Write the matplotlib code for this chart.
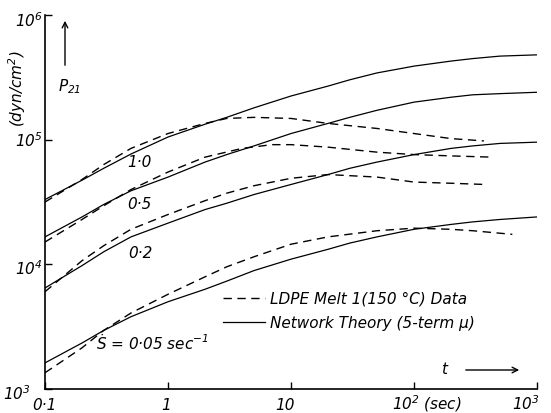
import matplotlib.pyplot as plt
from matplotlib.lines import Line2D
from matplotlib.ticker import NullLocator

plt.rcParams['mathtext.fontset'] = 'custom'
plt.rcParams['mathtext.rm'] = 'DejaVu Sans:italic'
plt.rcParams['mathtext.it'] = 'DejaVu Sans:italic'

# theory curves (network theory, 5-term mu), shear stress P21 in dyn/cm^2
t_theory = [0.1, 0.2, 0.3, 0.5, 1, 2, 3, 5, 10, 20, 30, 50, 100, 200, 300, 500, 1000]
theory_10 = [3.31e4, 4.73e4, 5.89e4, 7.67e4, 1.05e5, 1.33e5, 1.51e5, 1.80e5, 2.24e5,
             2.69e5, 3.02e5, 3.43e5, 3.89e5, 4.27e5, 4.47e5, 4.68e5, 4.79e5]
theory_05 = [1.66e4, 2.40e4, 3.02e4, 3.89e4, 5.01e4, 6.61e4, 7.59e4, 8.91e4, 1.12e5,
             1.35e5, 1.51e5, 1.72e5, 2.0e5, 2.19e5, 2.29e5, 2.34e5, 2.40e5]
theory_02 = [6.46e3, 9.77e3, 1.26e4, 1.66e4, 2.14e4, 2.75e4, 3.09e4, 3.63e4, 4.37e4,
             5.25e4, 5.89e4, 6.61e4, 7.59e4, 8.51e4, 8.91e4, 9.33e4, 9.55e4]
theory_005 = [1.62e3, 2.34e3, 2.95e3, 3.80e3, 5.01e3, 6.31e3, 7.33e3, 8.91e3, 1.10e4,
              1.32e4, 1.48e4, 1.66e4, 1.91e4, 2.09e4, 2.19e4, 2.29e4, 2.40e4]

# LDPE melt data
t_data_10 = [0.1, 0.2, 0.3, 0.5, 1, 2, 3, 5, 10, 20, 50, 100, 200, 370]
data_10 = [3.16e4, 4.79e4, 6.31e4, 8.51e4, 1.12e5, 1.35e5, 1.48e5, 1.51e5, 1.48e5,
           1.35e5, 1.23e5, 1.12e5, 1.02e5, 9.77e4]
t_data_05 = [0.1, 0.2, 0.3, 0.5, 1, 2, 4, 7, 10, 20, 50, 100, 200, 430]
data_05 = [1.51e4, 2.29e4, 2.95e4, 3.98e4, 5.50e4, 7.24e4, 8.51e4, 9.12e4, 9.12e4,
           8.71e4, 7.94e4, 7.59e4, 7.41e4, 7.24e4]
t_data_02 = [0.1, 0.2, 0.3, 0.5, 1, 2, 3, 5, 10, 20, 50, 100, 200, 380]
data_02 = [6.03e3, 1.07e4, 1.41e4, 1.91e4, 2.51e4, 3.24e4, 3.72e4, 4.27e4, 4.90e4,
           5.25e4, 5.01e4, 4.57e4, 4.47e4, 4.37e4]
t_data_005 = [0.1, 0.2, 0.3, 0.5, 1, 2, 3, 5, 10, 20, 50, 100, 200, 300, 630]
data_005 = [1.35e3, 2.14e3, 2.95e3, 4.07e3, 5.75e3, 7.94e3, 9.55e3, 1.15e4, 1.45e4,
            1.66e4, 1.86e4, 1.95e4, 1.91e4, 1.86e4, 1.74e4]

rate_labels = ['1·0', '0·5', '0·2', r'$\dot{S}$ = 0·05 sec$^{-1}$']
x_ticks = [0.1, 1, 10, 100, 1000]
y_ticks = [1e3, 1e4, 1e5, 1e6]

W, H = 551, 413


def px(x, y):
    # image pixel (top-left origin) -> figure fraction
    return x / W, 1 - y / H


fig = plt.figure(figsize=(5.51, 4.13), dpi=100)
ax = fig.add_axes([45 / W, 1 - 389 / H, (537 - 45) / W, (389 - 15) / H])
ax.set_xscale('log')
ax.set_yscale('log')
ax.set_xlim(0.1, 1000)
ax.set_ylim(1e3, 1e6)

for P in [theory_10, theory_05, theory_02, theory_005]:
    ax.plot(t_theory, P, color='black', lw=0.9)
for t, P in [(t_data_10, data_10), (t_data_05, data_05),
             (t_data_02, data_02), (t_data_005, data_005)]:
    ax.plot(t, P, color='black', lw=1.0, ls='--', dashes=(6, 4))

for s in ['top', 'right']:
    ax.spines[s].set_visible(False)
for s in ['left', 'bottom']:
    ax.spines[s].set_linewidth(1.2)

ax.set_xticks(x_ticks)
ax.set_yticks(y_ticks)
ax.xaxis.set_minor_locator(NullLocator())
ax.yaxis.set_minor_locator(NullLocator())
ax.tick_params(direction='in', length=5, width=1,
               labelleft=False, labelbottom=False)

font = dict(style='italic', fontsize=11, color='black')

# curve labels
ax.text(0.59, 6.6e4, rate_labels[0], ha='center', va='center', **font)
ax.text(0.59, 3.0e4, rate_labels[1], ha='center', va='center', **font)
ax.text(0.60, 1.23e4, rate_labels[2], ha='center', va='center', **font)
ax.text(0.26, 2.3e3, rate_labels[3], ha='left', va='center', **font)

# tick labels
fig.text(*px(43, 21), '10$^{6}$', ha='right', va='center', **font)
fig.text(*px(43, 141), '10$^{5}$', ha='right', va='center', **font)
fig.text(*px(43, 269), '10$^{4}$', ha='right', va='center', **font)
fig.text(*px(31, 394), '10$^{3}$', ha='right', va='center', **font)
fig.text(*px(44, 406), '0·1', ha='center', va='center', **font)
fig.text(*px(166, 405), '1', ha='center', va='center', **font)
fig.text(*px(285, 405), '10', ha='center', va='center', **font)
fig.text(*px(392, 404), '10$^{2}$ (sec)', ha='left', va='center', **font)
fig.text(*px(540, 404), '10$^{3}$', ha='right', va='center', **font)

# axis labels and arrows
fig.text(*px(17, 89), '(dyn/cm$^{2}$)', rotation=90, ha='center', va='center', **font)
fig.text(*px(70, 87), '$P_{21}$', ha='center', va='center', **font)
ax.annotate('', xy=px(65, 18), xytext=px(65, 68), xycoords='figure fraction',
            arrowprops=dict(arrowstyle='->', lw=1, color='black'))
fig.text(*px(444, 370), 't', ha='center', va='center', **font)
ax.annotate('', xy=px(522, 370), xytext=px(463, 370), xycoords='figure fraction',
            arrowprops=dict(arrowstyle='->', lw=1, color='black'))

# legend
handles = [Line2D([], [], color='black', lw=1.0, ls='--', dashes=(6, 4)),
           Line2D([], [], color='black', lw=0.9)]
labels = ['LDPE Melt 1(150 °C) Data', 'Network Theory (5-term µ)']
ax.legend(handles, labels, loc='upper left', bbox_to_anchor=px(215, 284),
          bbox_transform=fig.transFigure, frameon=False,
          prop=dict(style='italic', size=11), handlelength=2.8,
          handletextpad=0.3, labelspacing=0.6, borderpad=0)

fig.savefig('out.png', dpi=100)
